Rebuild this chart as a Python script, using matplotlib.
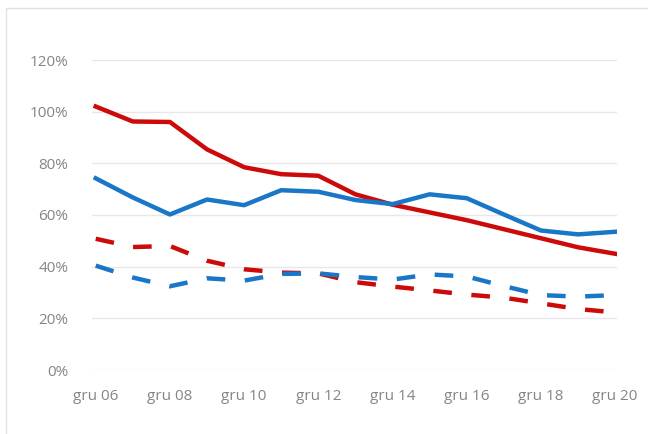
import matplotlib
matplotlib.use("Agg")
import matplotlib.pyplot as plt
from matplotlib.patches import Rectangle
from matplotlib.ticker import FuncFormatter, FixedLocator

years = ["06", "07", "08", "09", "10", "11", "12", "13", "14", "15", "16", "17", "18", "19", "20"]
tick_labels = ["gru 06", "gru 08", "gru 10", "gru 12", "gru 14", "gru 16", "gru 18", "gru 20"]

red_solid = [102.0, 96.2, 96.0, 85.4, 78.5, 75.8, 75.2, 68.0, 64.0, 61.0, 58.0, 54.5, 51.0, 47.5, 45.0]
blue_solid = [74.2, 66.8, 60.2, 66.0, 63.8, 69.6, 69.0, 65.8, 64.2, 68.0, 66.5, 60.2, 54.0, 52.5, 53.5]
red_dashed = [50.8, 47.6, 48.0, 42.3, 39.0, 37.7, 37.4, 34.0, 32.3, 30.8, 29.2, 28.0, 25.8, 23.6, 22.3]
blue_dashed = [40.4, 35.8, 32.4, 35.5, 34.6, 37.2, 37.4, 36.0, 35.0, 37.0, 36.2, 32.5, 29.0, 28.4, 29.0]

RED = "#cc0a0a"
BLUE = "#1a76c6"
TXT = "#858585"

plt.rcParams["font.family"] = ["Open Sans", "DejaVu Sans"]

fig = plt.figure(figsize=(6.48, 4.34), dpi=100)
fig.patch.set_facecolor("white")
ax = fig.add_axes([92 / 648, 1 - 370 / 434, (617 - 92) / 648, (370 - 60) / 434])

x = list(range(len(years)))
lw = 3.2
ax.plot(x, red_solid, color=RED, lw=lw, solid_joinstyle="round", zorder=3)
ax.plot(x, blue_solid, color=BLUE, lw=lw, solid_joinstyle="round", zorder=3)
ax.plot(x, red_dashed, color=RED, lw=lw, dashes=(4.2, 4.4), dash_capstyle="butt", zorder=3)
ax.plot(x, blue_dashed, color=BLUE, lw=lw, dashes=(4.2, 4.4), dash_capstyle="butt", zorder=3)

ax.set_ylim(0, 120)
ax.set_xlim(-0.1, 14.05)
ax.yaxis.set_major_locator(FixedLocator([0, 20, 40, 60, 80, 100, 120]))
ax.yaxis.set_major_formatter(FuncFormatter(lambda v, p: f"{int(v)}%"))
ax.set_xticks(x[::2])
ax.set_xticklabels(tick_labels)
ax.grid(axis="y", color="#e8e8e8", lw=1.0, zorder=0)
ax.set_axisbelow(True)
for s in ax.spines.values():
    s.set_visible(False)
ax.tick_params(axis="both", length=0, colors=TXT, labelsize=11)
ax.tick_params(axis="y", pad=17)
ax.tick_params(axis="x", pad=14)

fig.patches.append(Rectangle((6 / 648, -0.05), 1.1, 1 - 8 / 434 + 0.05,
                             transform=fig.transFigure, fill=False,
                             edgecolor="#e2e2e2", lw=1.0))

fig.savefig("out.png", dpi=100)
